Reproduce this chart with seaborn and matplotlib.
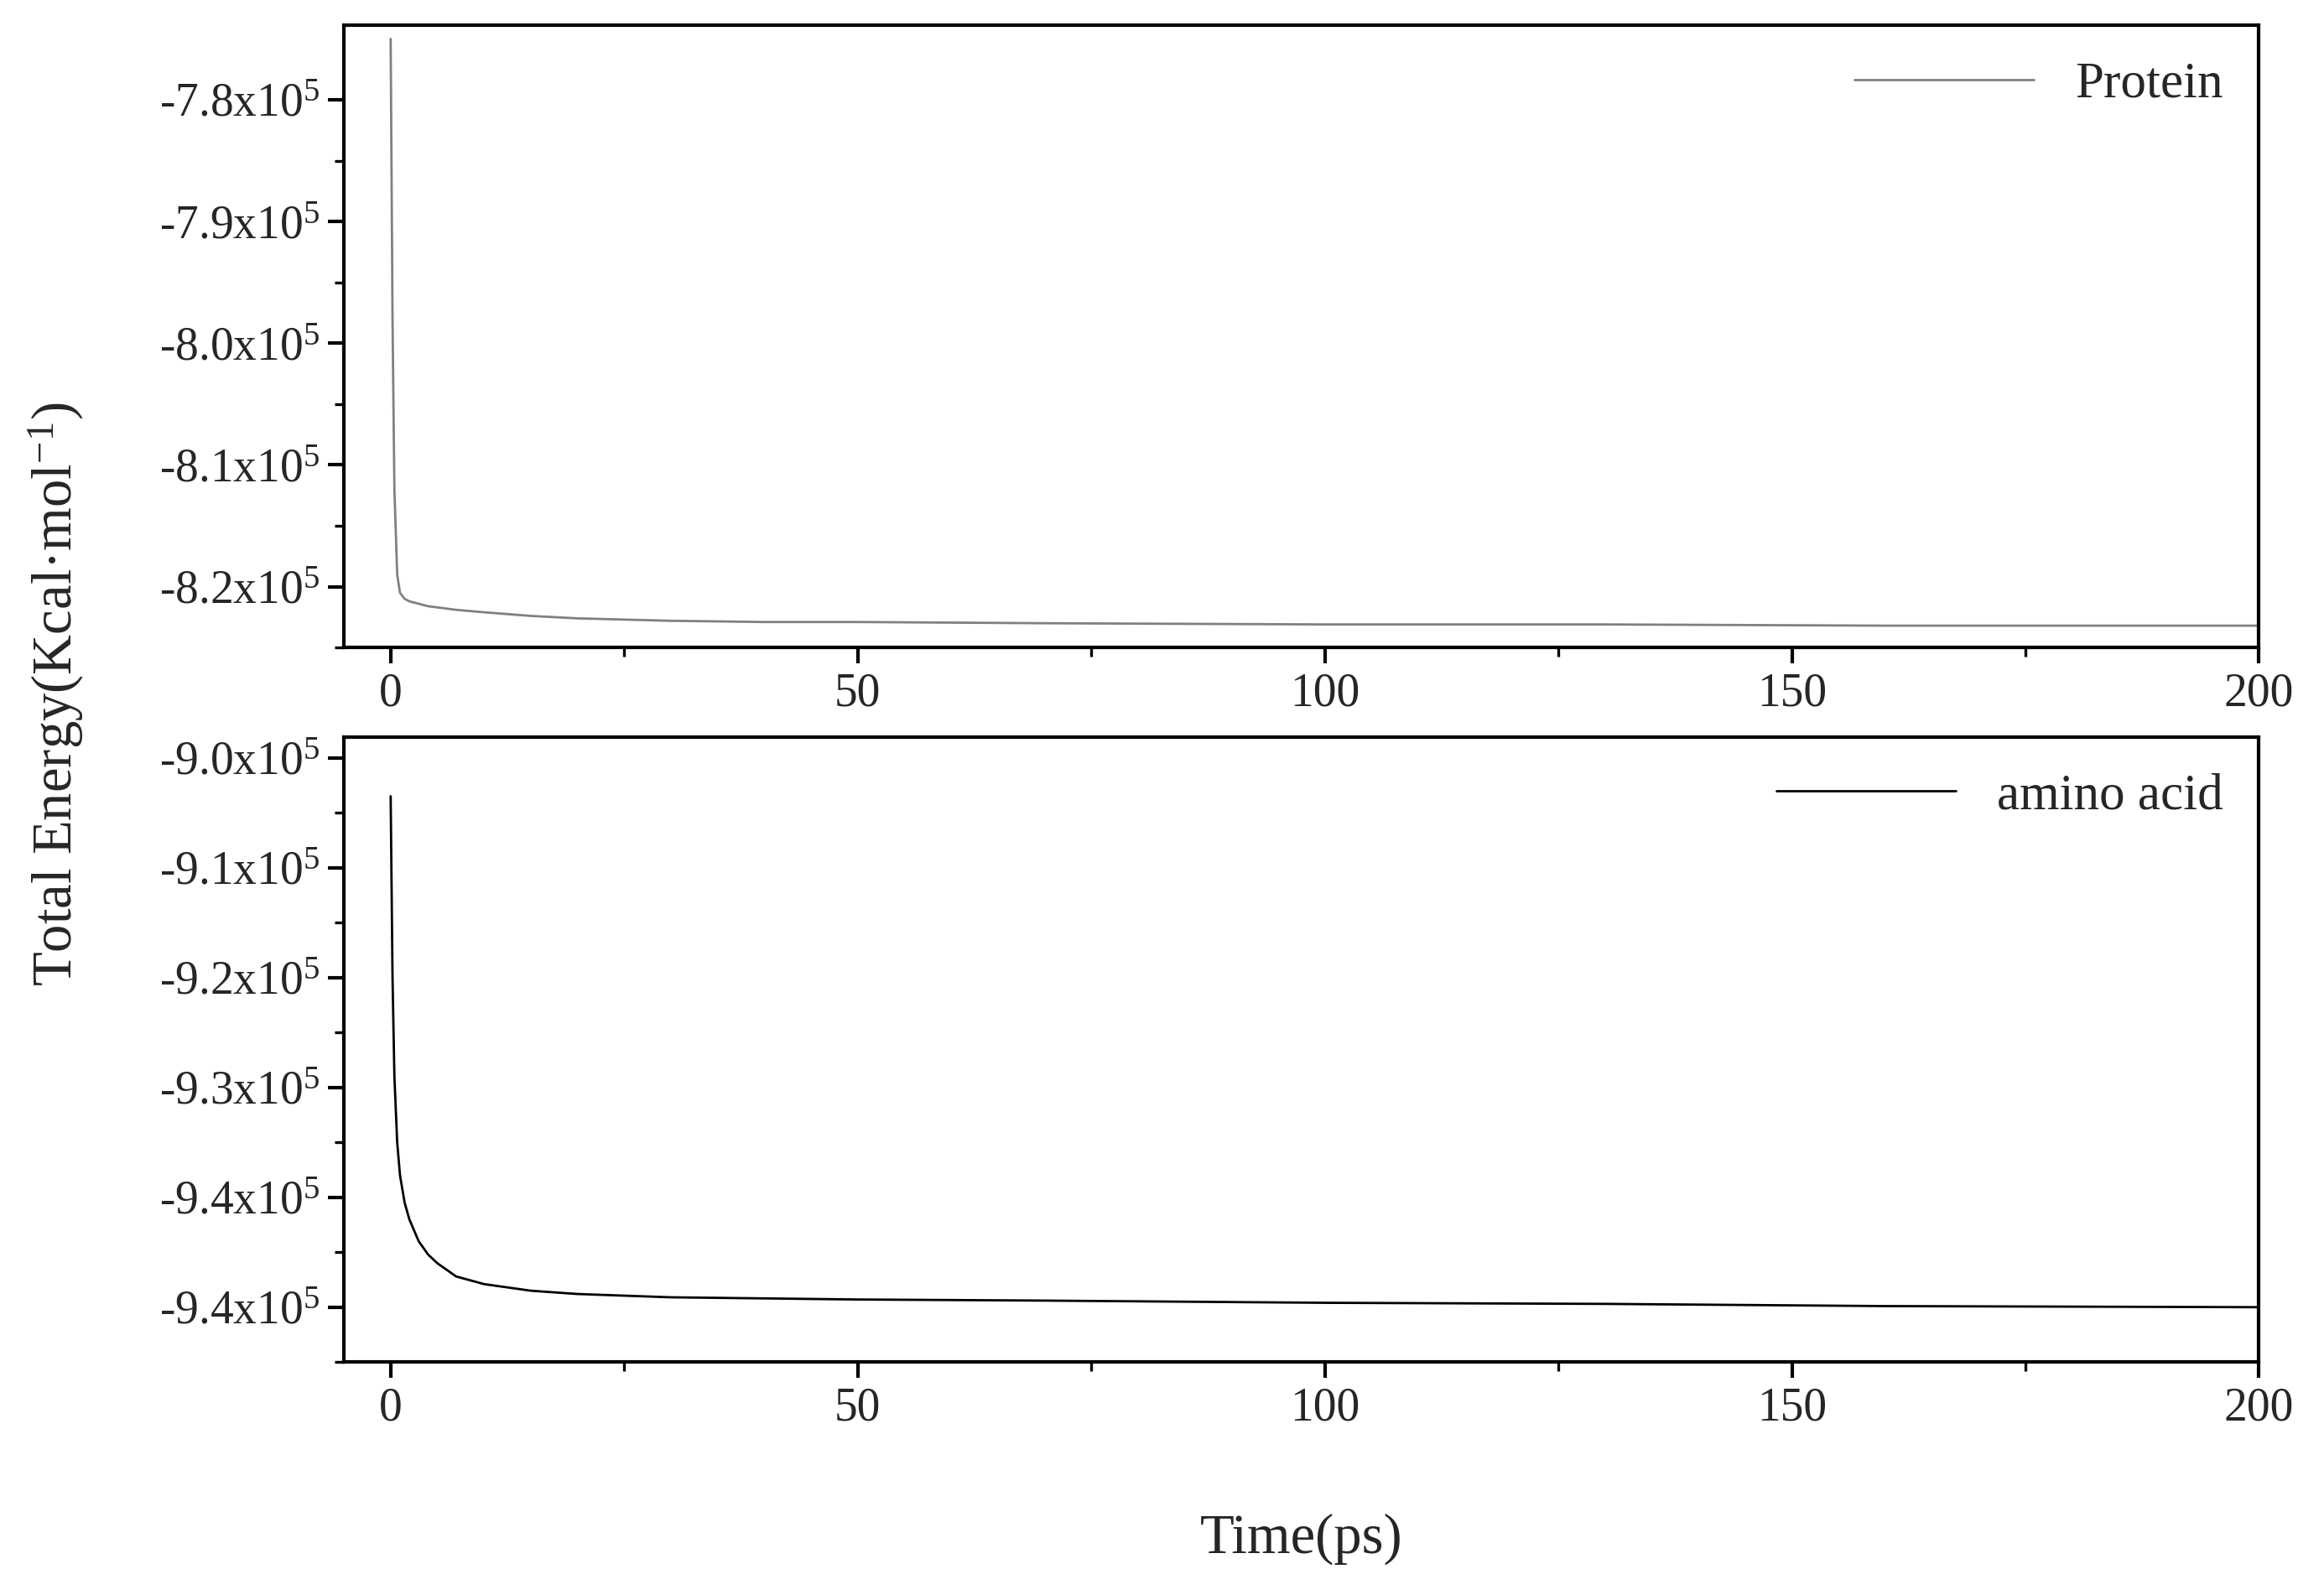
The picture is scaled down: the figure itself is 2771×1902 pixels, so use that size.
import matplotlib
matplotlib.use("Agg")
import matplotlib.pyplot as plt
import seaborn as sns
import pandas as pd

sns.set_theme(style="ticks")
plt.rcParams['font.family'] = ['Liberation Serif', 'DejaVu Serif']
plt.rcParams['mathtext.fontset'] = 'custom'
plt.rcParams['mathtext.rm'] = 'Liberation Serif'
plt.rcParams['mathtext.it'] = 'Liberation Serif:italic'

time_ps = [0, 0.2, 0.4, 0.7, 1.0, 1.5, 2, 3, 4, 5, 7, 10, 15, 20, 30, 40, 50, 70, 100, 130, 160, 200]
protein = [-7.75, -7.98, -8.12, -8.19, -8.205, -8.21, -8.212, -8.214, -8.216, -8.217, -8.219, -8.221,
           -8.224, -8.226, -8.228, -8.229, -8.229, -8.230, -8.231, -8.231, -8.232, -8.232]
amino = [-9.035, -9.20, -9.29, -9.35, -9.38, -9.405, -9.42, -9.44, -9.452, -9.46, -9.472, -9.479,
         -9.485, -9.488, -9.491, -9.492, -9.493, -9.494, -9.496, -9.497, -9.499, -9.500]

top_ticks = [-7.8, -7.9, -8.0, -8.1, -8.2]
top_labels = ["-7.8x10$^5$", "-7.9x10$^5$", "-8.0x10$^5$", "-8.1x10$^5$", "-8.2x10$^5$"]
bot_ticks = [-9.0, -9.1, -9.2, -9.3, -9.4, -9.5]
bot_labels = ["-9.0x10$^5$", "-9.1x10$^5$", "-9.2x10$^5$", "-9.3x10$^5$", "-9.4x10$^5$", "-9.4x10$^5$"]
x_ticks = [0, 50, 100, 150, 200]

df = pd.DataFrame({"t": time_ps, "protein": protein, "amino": amino})

fig = plt.figure(figsize=(13.855, 9.51), dpi=200)
ax1 = fig.add_axes([0.148, 0.594, 0.824, 0.390])
ax2 = fig.add_axes([0.148, 0.146, 0.824, 0.392])

sns.lineplot(data=df, x="t", y="protein", ax=ax1, color="#808080", lw=1.0, label="Protein")
sns.lineplot(data=df, x="t", y="amino", ax=ax2, color="black", lw=1.0, label="amino acid")

for ax, ticks, labels, ylim in [(ax1, top_ticks, top_labels, (-8.2433, -7.739)),
                                (ax2, bot_ticks, bot_labels, (-9.541, -8.981))]:
    ax.set_xlim(-5, 200)
    ax.set_ylim(*ylim)
    ax.set_xticks(x_ticks)
    ax.set_xticks([25, 75, 125, 175], minor=True)
    ax.set_yticks(ticks)
    ax.set_yticklabels(labels)
    ax.set_yticks([t - 0.05 for t in ticks], minor=True)
    ax.set_xlabel("")
    ax.set_ylabel("")
    ax.tick_params(axis='both', which='major', labelsize=20, length=7, width=1.5, direction='out', color='black')
    ax.tick_params(axis='both', which='minor', length=4, width=1.2, direction='out', color='black')
    for s in ax.spines.values():
        s.set_linewidth(1.5)
        s.set_color('black')
        s.set_visible(True)
    ax.legend(loc="upper right", frameon=False, fontsize=22, handlelength=3.5, borderaxespad=0.3)

fig.text(0.024, 0.565, "Total Energy(Kcal·mol$^{-1}$)", rotation=90, ha='center', va='center', fontsize=24)
fig.text(0.56, 0.035, "Time(ps)", ha='center', va='center', fontsize=24)

fig.savefig("out.png", dpi=200)
